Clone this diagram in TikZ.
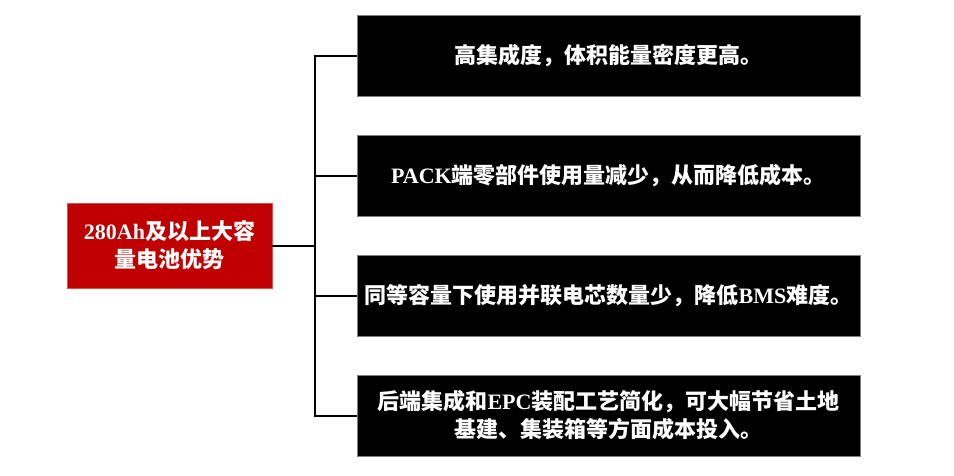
\documentclass[tikz,border=0pt]{standalone}
\usepackage{fontspec}
\setmainfont{Liberation Serif}
\newfontfamily\cjk{Noto Sans CJK SC}
\newcommand\lat[1]{{\rmfamily\bfseries #1}}
\definecolor{rootred}{HTML}{C00000}
\definecolor{rootedge}{HTML}{D85050}
\definecolor{boxedge}{HTML}{7F7F7F}
\tikzset{
  rootbox/.style={draw=rootedge, line width=0.8pt, fill=rootred, text=white,
    minimum width=205pt, minimum height=85pt, align=center,
    font=\fontsize{22}{28}\selectfont\cjk\bfseries, inner sep=0pt},
  pointbox/.style={draw=boxedge, line width=0.8pt, fill=black, text=white,
    minimum width=503pt, minimum height=81pt, align=center,
    font=\fontsize{22}{28}\selectfont\cjk\bfseries, inner sep=0pt},
  link/.style={draw=black, line width=2pt}
}
\begin{document}
\begin{tikzpicture}[x=1pt,y=-1pt]
\useasboundingbox (0,0) rectangle (954,475);
\node[rootbox] (root) at (169.5,245.5) {\lat{280Ah}及以上大容\\量电池优势};
\node[pointbox] (b1) at (608.5,55.5) {高集成度，体积能量密度更高。};
\node[pointbox] (b2) at (608.5,175.5) {\lat{PACK}端零部件使用量减少，从而降低成本。};
\node[pointbox] (b3) at (608.5,295.5) {同等容量下使用并联电芯数量少，降低\lat{BMS}难度。};
\node[pointbox] (b4) at (608.5,415.5) {后端集成和\lat{EPC}装配工艺简化，可大幅节省土地\\基建、集装箱等方面成本投入。};
\coordinate (j) at (315,245.5);
\draw[link] (root.east) -- (j);
\draw[link] (b1.west) -| (j) |- (b4.west);
\draw[link] (b2.west) -- (b2.west -| j);
\draw[link] (b3.west) -- (b3.west -| j);
\end{tikzpicture}
\end{document}
